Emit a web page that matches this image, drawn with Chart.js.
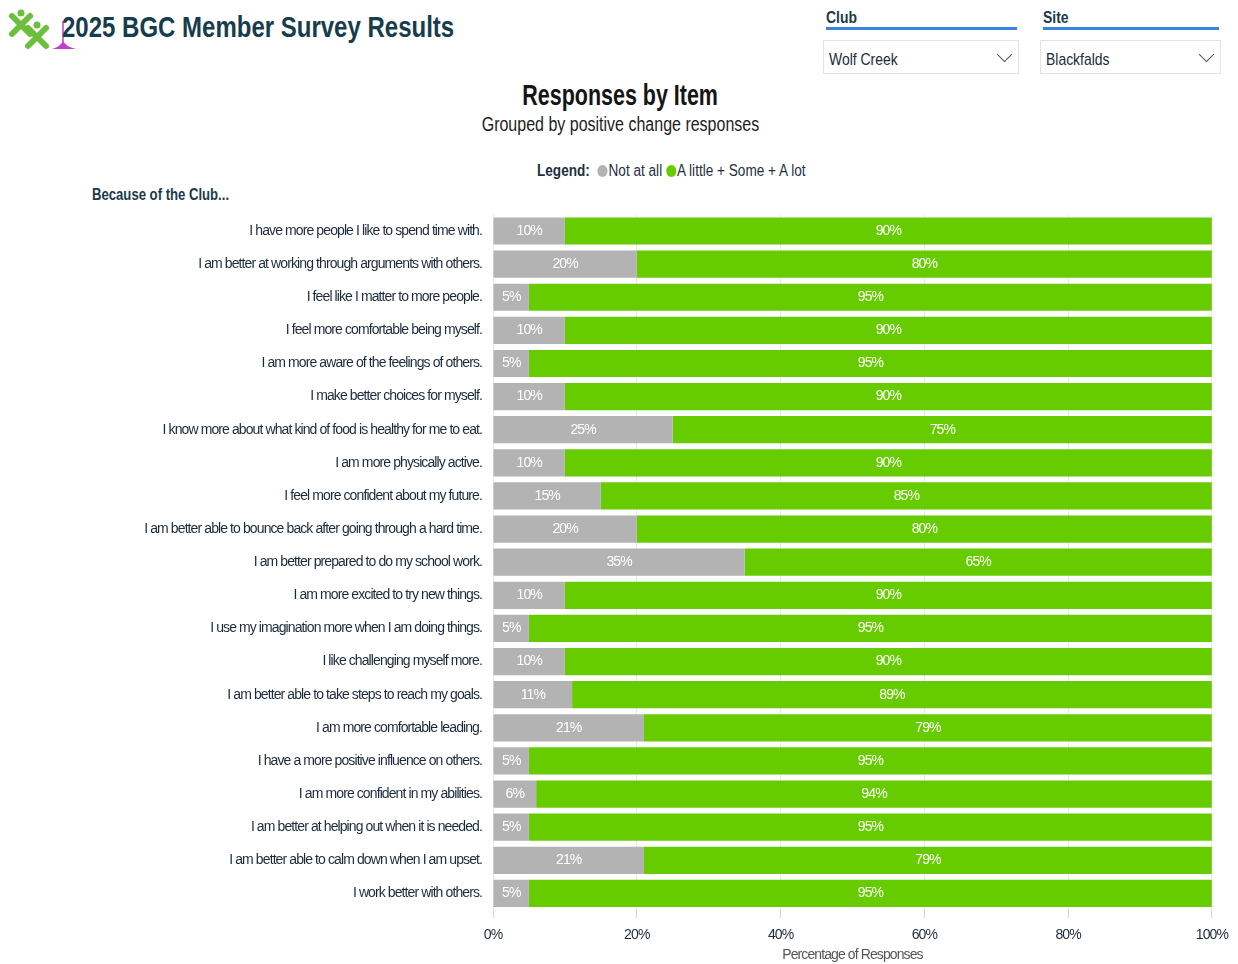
<!DOCTYPE html>
<html lang="en">
<head>
<meta charset="UTF-8">
<title>2025 BGC Member Survey Results</title>
<script src="https://cdn.jsdelivr.net/npm/chart.js"></script>
<style>
  body { margin: 0; width: 1238px; height: 964px; background: #fff; position: relative; overflow: hidden;
         font-family: "Liberation Sans", Arial, sans-serif; color: #1f2f3f; }
  .abs { position: absolute; white-space: nowrap; }
  .n { display: inline-block; transform: scaleX(0.82); transform-origin: left center; }
  .c .n { transform-origin: center center; }
  #title { left: 62px; top: 11px; font-size: 30px; line-height: 32px; font-weight: bold; color: #173d4d; }
  #title .n { transform: scaleX(0.8); }
  .flabel { font-size: 17px; font-weight: bold; color: #1b3a4b; }
  .fline { height: 3px; background: #3b82e6; }
  .fbox { border: 1px solid #e3e3e3; height: 34px; box-sizing: border-box; font-size: 17px; line-height: 34px; padding: 2px 0 0 5px; color: #1b2b3b; }
  .chev { position: absolute; right: 8px; top: 8px; width: 10px; height: 10px; border-right: 1.5px solid #555; border-bottom: 1.5px solid #555; transform: rotate(45deg); }
  #h1 { left: 0; width: 1240px; top: 79px; text-align: center; font-size: 29px; font-weight: bold; color: #151515; }
  #h1 .n { transform: scaleX(0.74); }
  #h2 { left: 0; width: 1240px; top: 113px; text-align: center; font-size: 20px; color: #222; }
  #h2 .n { transform: scaleX(0.8); }
  #legend { left: 537px; top: 162px; font-size: 16px; color: #1f2f3f; }
  #legend .n { transform: scaleX(0.85); }
  .dot { display: inline-block; width: 12px; height: 12px; border-radius: 50%; vertical-align: -1px; margin-right: 1px; }
  #because { left: 92px; top: 186px; font-size: 16px; font-weight: bold; color: #1b3a4b; }
  #wrap { left: 0; top: 203px; width: 1237px; height: 761px; }
</style>
</head>
<body>
<svg class="abs" style="left:6px;top:8px" width="72" height="46" viewBox="0 0 72 46">
  <g stroke="#6cbf3c" stroke-width="6" stroke-linecap="round">
    <line x1="6" y1="8" x2="24" y2="26"/><line x1="24" y1="8" x2="6" y2="26"/>
    <line x1="22" y1="20" x2="40" y2="38"/><line x1="40" y1="20" x2="22" y2="38"/>
  </g>
  <circle cx="15" cy="5" r="3.5" fill="#6cbf3c"/><circle cx="31" cy="17" r="3.5" fill="#6cbf3c"/>
  <line x1="57" y1="13" x2="57" y2="39" stroke="#c040c8" stroke-width="1.5"/>
  <path d="M46 41 Q55 38 57 33 Q59 38 70 41 Z" fill="#c040c8"/>
</svg>
<div id="title" class="abs"><span class="n">2025 BGC Member Survey Results</span></div>

<div class="abs flabel" style="left:826px;top:8px"><span class="n">Club</span></div>
<div class="abs fline" style="left:826px;top:27px;width:191px"></div>
<div class="abs fbox" style="left:823px;top:40px;width:196px"><span class="n">Wolf Creek</span><div class="chev"></div></div>
<div class="abs flabel" style="left:1043px;top:8px"><span class="n">Site</span></div>
<div class="abs fline" style="left:1043px;top:27px;width:176px"></div>
<div class="abs fbox" style="left:1040px;top:40px;width:181px"><span class="n">Blackfalds</span><div class="chev"></div></div>

<div id="h1" class="abs c"><span class="n">Responses by Item</span></div>
<div id="h2" class="abs c"><span class="n">Grouped by positive change responses</span></div>
<div id="legend" class="abs"><span class="n"><b>Legend:</b>&nbsp; <span class="dot" style="background:#b3b3b3"></span>Not at all <span class="dot" style="background:#66cc00"></span>A little + Some + A lot</span></div>
<div id="because" class="abs"><span class="n">Because of the Club...</span></div>

<div id="wrap" class="abs"><canvas id="surveyChart"></canvas></div>

<script>
const items = [
  'I have more people I like to spend time with.',
  'I am better at working through arguments with others.',
  'I feel like I matter to more people.',
  'I feel more comfortable being myself.',
  'I am more aware of the feelings of others.',
  'I make better choices for myself.',
  'I know more about what kind of food is healthy for me to eat.',
  'I am more physically active.',
  'I feel more confident about my future.',
  'I am better able to bounce back after going through a hard time.',
  'I am better prepared to do my school work.',
  'I am more excited to try new things.',
  'I use my imagination more when I am doing things.',
  'I like challenging myself more.',
  'I am better able to take steps to reach my goals.',
  'I am more comfortable leading.',
  'I have a more positive influence on others.',
  'I am more confident in my abilities.',
  'I am better at helping out when it is needed.',
  'I am better able to calm down when I am upset.',
  'I work better with others.'
];
const notAtAll = [10, 20, 5, 10, 5, 10, 25, 10, 15, 20, 35, 10, 5, 10, 11, 21, 5, 6, 5, 21, 5];
const positive = [90, 80, 95, 90, 95, 90, 75, 90, 85, 80, 65, 90, 95, 90, 89, 79, 95, 94, 95, 79, 95];
const xTicks = [0, 20, 40, 60, 80, 100];

const fontFam = '"Liberation Sans", Arial, sans-serif';

// narrow look: tighten letters on the canvas
const narrowText = {
  id: 'narrowText',
  beforeLayout(chart) { chart.ctx.letterSpacing = '-0.9px'; },
  beforeDraw(chart) { chart.ctx.letterSpacing = '-0.9px'; }
};

// labels inside each segment
const barLabels = {
  id: 'barLabels',
  afterDatasetsDraw(chart) {
    const ctx = chart.ctx;
    ctx.save();
    ctx.font = '14px ' + fontFam;
    ctx.fillStyle = '#ffffff';
    ctx.textAlign = 'center';
    ctx.textBaseline = 'middle';
    chart.data.datasets.forEach((ds, i) => {
      chart.getDatasetMeta(i).data.forEach((bar, j) => {
        const cx = (bar.x + bar.base) / 2;
        ctx.fillText(ds.data[j] + '%', cx, bar.y);
      });
    });
    ctx.restore();
  }
};

new Chart(document.getElementById('surveyChart').getContext('2d'), {
  type: 'bar',
  data: {
    labels: items,
    datasets: [
      { label: 'Not at all', data: notAtAll, backgroundColor: '#b3b3b3' },
      { label: 'A little + Some + A lot', data: positive, backgroundColor: '#66cc00' }
    ]
  },
  options: {
    indexAxis: 'y',
    responsive: true,
    maintainAspectRatio: false,
    animation: false,
    layout: { padding: { top: 5, right: 0, left: 0, bottom: 0 } },
    datasets: { bar: { categoryPercentage: 1, barPercentage: 0.82 } },
    plugins: { legend: { display: false }, tooltip: { enabled: false } },
    scales: {
      x: {
        stacked: true,
        min: 0, max: 100,
        afterBuildTicks: (scale) => { scale.ticks = xTicks.map(v => ({ value: v })); },
        afterFit: (scale) => { scale.height = 54; },
        grid: { color: '#e8e8e8', tickLength: 8, drawTicks: true, tickColor: '#d8d8d8' },
        border: { display: false },
        ticks: { padding: 9, color: '#1b2b3b', font: { family: fontFam, size: 14 }, callback: v => v + '%' },
        title: { display: true, text: 'Percentage of Responses', color: '#555', padding: { top: 1, bottom: 0 }, font: { family: fontFam, size: 14 } }
      },
      y: {
        stacked: true,
        afterFit: (scale) => { scale.width = 493; },
        grid: { display: false },
        border: { display: false },
        ticks: { padding: 3, color: '#1b2b3b', font: { family: fontFam, size: 14 } }
      }
    }
  },
  plugins: [narrowText, barLabels]
});
</script>
</body>
</html>
